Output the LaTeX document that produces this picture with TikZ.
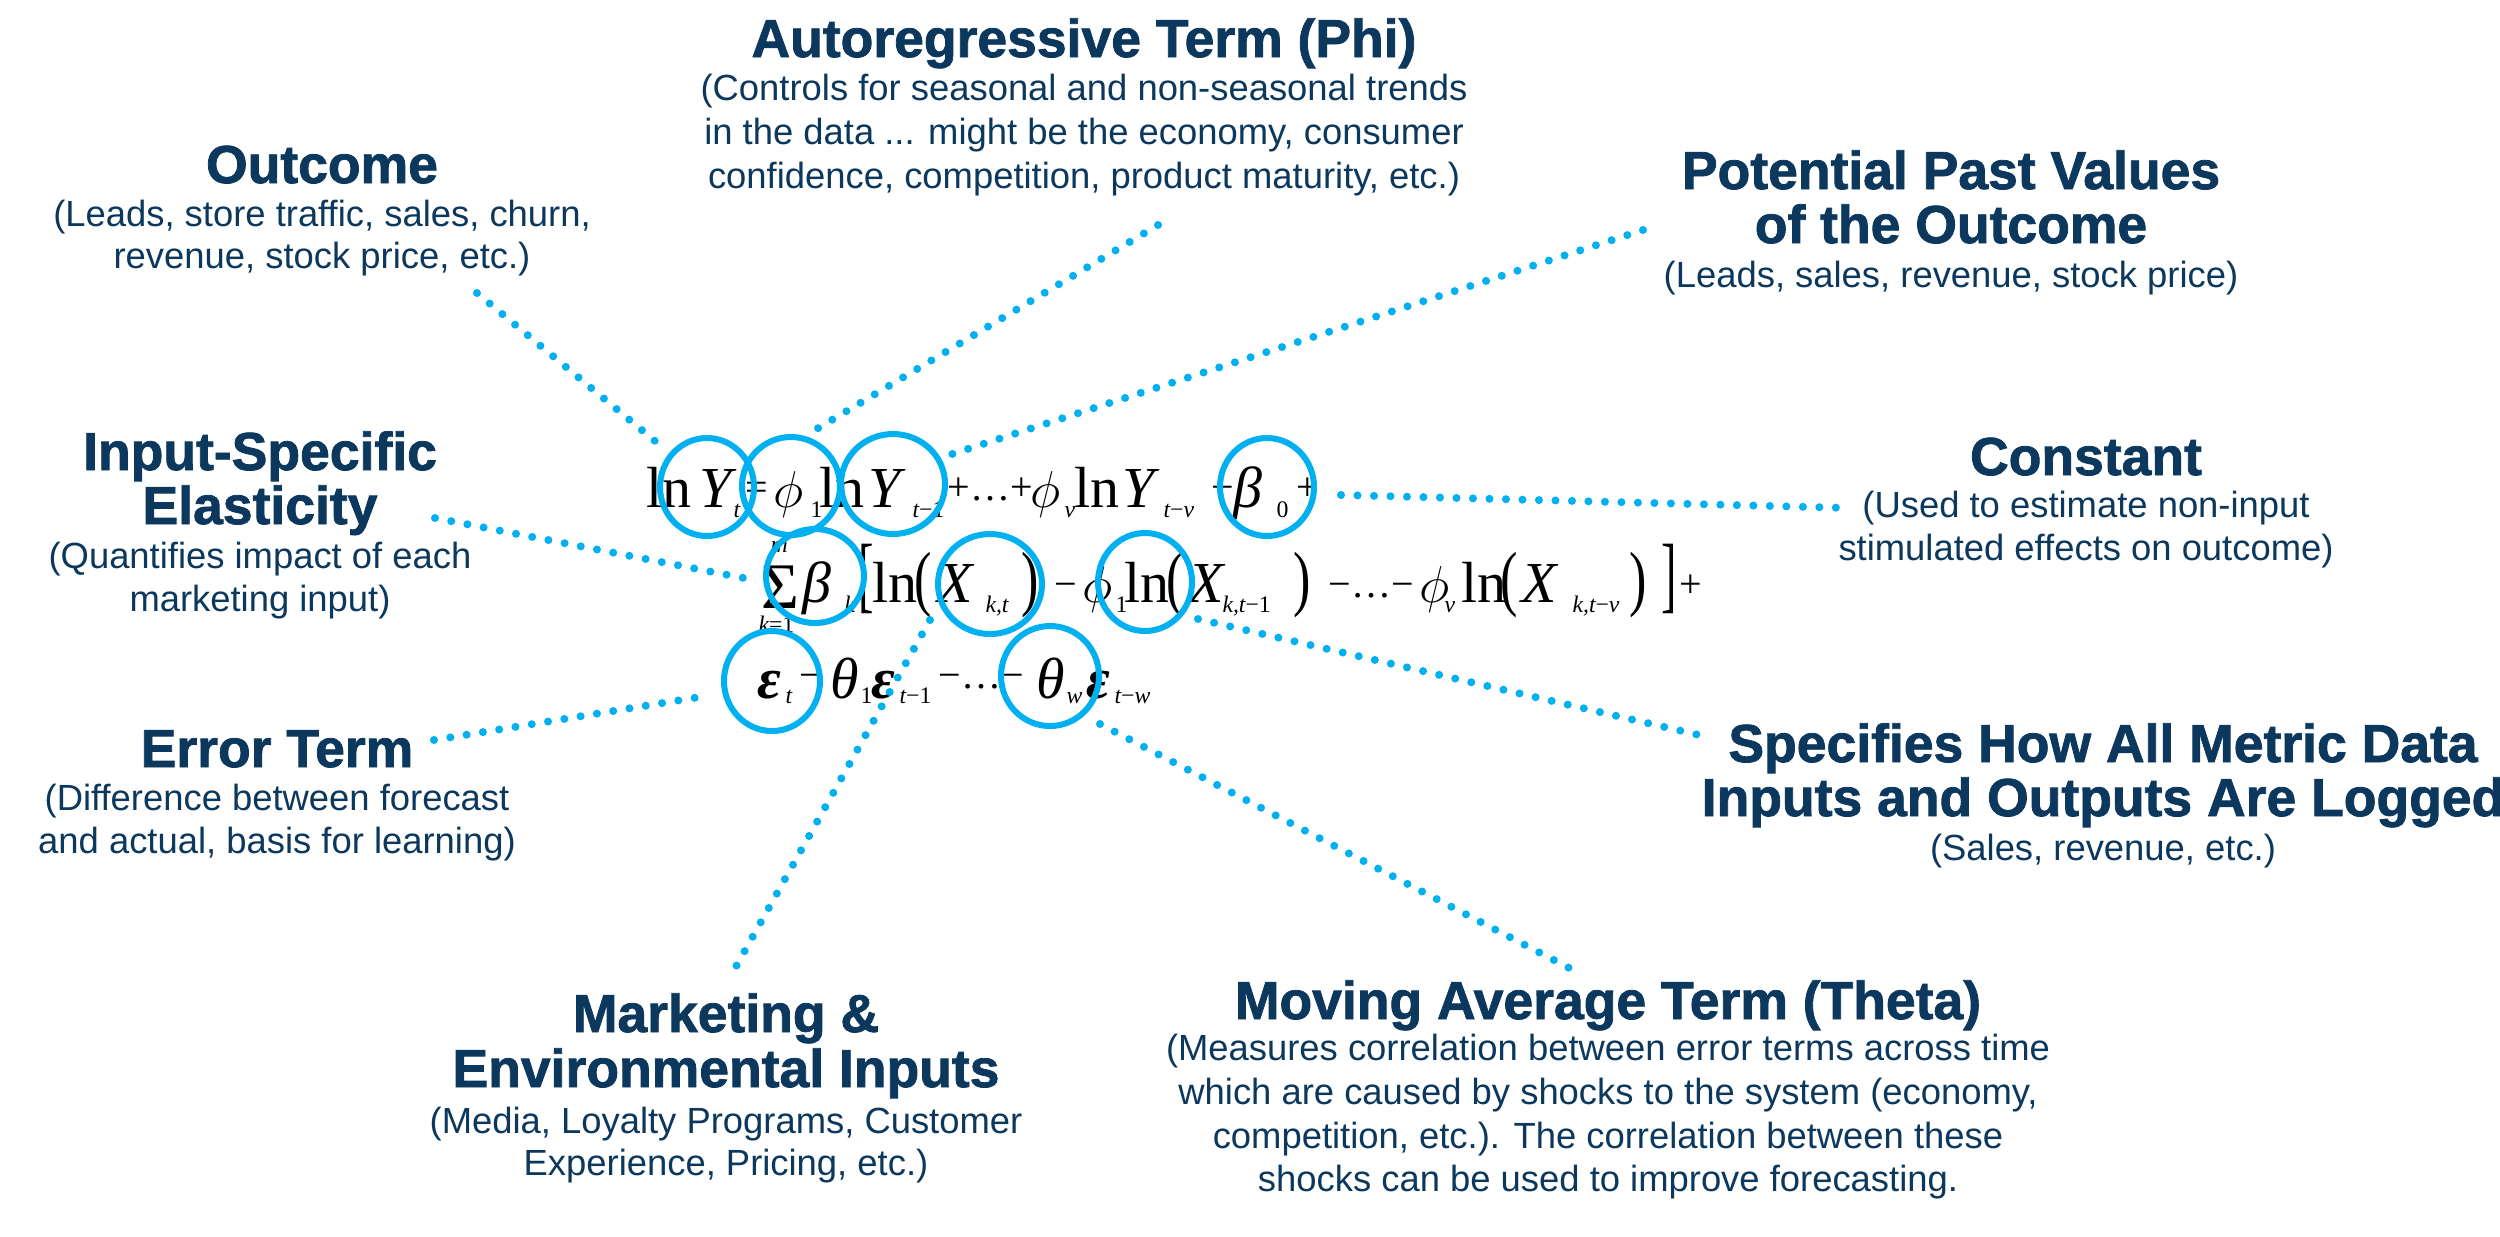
\documentclass[tikz,border=0pt]{standalone}
\usepackage{fontspec}
\usepackage{graphicx}
\setmainfont{Liberation Sans}
\newfontfamily\ttlfont[BoldFeatures={FakeBold=1.5}]{Liberation Sans}
\newfontfamily\eqrm{Liberation Serif}
\usetikzlibrary{shapes.geometric}
\definecolor{navy}{RGB}{12,56,94}
\definecolor{sky}{RGB}{0,176,240}
\begin{document}
\begin{tikzpicture}[x=0.4pt,y=-0.4pt,
 ttl/.style={font=\ttlfont\fontsize{21.4}{24}\selectfont\bfseries, text=navy, inner sep=0pt, anchor=base},
 bdy/.style={font=\fontsize{14.56}{17}\selectfont, text=navy, inner sep=0pt, anchor=base},
 eqm/.style={font=\eqrm\fontsize{23.2}{24}\selectfont, inner sep=0pt, anchor=base west},
 eqi/.style={font=\eqrm\itshape\fontsize{23.2}{24}\selectfont, inner sep=0pt, anchor=base west},
 eqb/.style={font=\eqrm\bfseries\itshape\fontsize{23.2}{24}\selectfont, inner sep=0pt, anchor=base west},
 eqphi/.style={font=\fontsize{22}{24}\selectfont, inner sep=0pt, anchor=base west},
 eqs/.style={font=\eqrm\itshape\fontsize{9.5}{10}\selectfont, inner sep=0pt, anchor=base west},
 eqo/.style={font=\eqrm\fontsize{16}{17}\selectfont, inner sep=0pt, anchor=base west},
 eqS/.style={font=\eqrm\fontsize{26}{28}\selectfont, inner sep=0pt, anchor=base west},
 ring/.style={ellipse, draw=sky, line width=2.4pt, inner sep=0pt},
 dotline/.style={draw=sky, line width=3.2pt, line cap=round, dash pattern=on 0pt off 6.6pt},
]
\fill[white] (0,0) rectangle (2500,1236);
\useasboundingbox (0,0) rectangle (2500,1236);

% ---------- labels ----------
\node[ttl] (arT) at (1084,57) {Autoregressive Term (Phi)};
\node[bdy] (arB1) at (1084,100) {(Controls for seasonal and non-seasonal trends};
\node[bdy] (arB2) at (1084,144) {in the data ... might be the economy, consumer};
\node[bdy] (arB3) at (1084,188) {confidence, competition, product maturity, etc.)};

\node[ttl] (ouT) at (322,183) {Outcome};
\node[bdy] (ouB1) at (322,226) {(Leads, store traffic, sales, churn,};
\node[bdy] (ouB2) at (322,268) {revenue, stock price, etc.)};

\node[ttl] (ppT1) at (1951,189) {Potential Past Values};
\node[ttl] (ppT2) at (1951,243) {of the Outcome};
\node[bdy] (ppB1) at (1951,287) {(Leads, sales, revenue, stock price)};

\node[ttl] (isT1) at (260,470) {Input-Specific};
\node[ttl] (isT2) at (260,524) {Elasticity};
\node[bdy] (isB1) at (260,568) {(Quantifies impact of each};
\node[bdy] (isB2) at (260,611) {marketing input)};

\node[ttl] (coT) at (2086,475) {Constant};
\node[bdy] (coB1) at (2086,517) {(Used to estimate non-input};
\node[bdy] (coB2) at (2086,560) {stimulated effects on outcome)};

\node[ttl] (erT) at (277,767) {Error Term};
\node[bdy] (erB1) at (277,810) {(Difference between forecast};
\node[bdy] (erB2) at (277,853) {and actual, basis for learning)};

\node[ttl] (spT1) at (2103,762) {Specifies How All Metric Data};
\node[ttl] (spT2) at (2103,816) {Inputs and Outputs Are Logged};
\node[bdy] (spB1) at (2103,860) {(Sales, revenue, etc.)};

\node[ttl] (mkT1) at (726,1032) {Marketing \&};
\node[ttl] (mkT2) at (726,1087) {Environmental Inputs};
\node[bdy] (mkB1) at (726,1133) {(Media, Loyalty Programs, Customer};
\node[bdy] (mkB2) at (726,1175) {Experience, Pricing, etc.)};

\node[ttl] (maT) at (1608,1019) {Moving Average Term (Theta)};
\node[bdy] (maB1) at (1608,1060) {(Measures correlation between error terms across time};
\node[bdy] (maB2) at (1608,1104) {which are caused by shocks to the system (economy,};
\node[bdy] (maB3) at (1608,1148) {competition, etc.). The correlation between these};
\node[bdy] (maB4) at (1608,1191) {shocks can be used to improve forecasting.};

% ---------- equation row 1 ----------
\node[eqm] (r1a) at (646,507) {ln};
\node[eqi] (r1b) at (699,507) {Y};
\node[eqs] (r1c) at (733,517) {t};
\node[eqo] (r1d) at (745,500) {=};
\node[eqphi] (r1e) at (773,507) {$\phi$};
\node[eqs] (r1f) at (810,517) {\upshape 1};
\node[eqm] (r1g) at (819,507) {ln};
\node[eqi] (r1h) at (868,507) {Y};
\node[eqs] (r1i) at (912,517) {t\upshape −1};
\node[eqo] (r1j) at (947,500) {+…+};
\node[eqphi] (r1k) at (1030,507) {$\phi$};
\node[eqs] (r1l) at (1064,517) {v};
\node[eqm] (r1m) at (1074,507) {ln};
\node[eqi] (r1n) at (1122,507) {Y};
\node[eqs] (r1o) at (1163,517) {t\upshape −\itshape v};
\node[eqo] (r1p) at (1211,500) {−};
\node[eqi] (r1q) at (1233,507) {β};
\node[eqs] (r1r) at (1276,517) {\upshape 0};
\node[eqo] (r1s) at (1296,500) {+};

% ---------- equation row 2 ----------
\node[eqs] (r2m) at (770,552) {m};
\node[eqS] (r2S) at (761,608) {Σ};
\node[eqs] (r2k) at (758,632) {k\upshape =1};
\node[eqi] (r2b) at (802,602) {β};
\node[eqs] (r2bk) at (844,612) {k};
\node[eqm] (r2L) at (858,602) {\scalebox{0.8}[1.45]{[}};
\node[eqm] (r2a) at (872,602) {ln};
\node[eqm] (r2p1) at (914,602) {\scalebox{0.9}[1.25]{(}};
\node[eqi] (r2X1) at (937,602) {X};
\node[eqs] (r2s1) at (985,612) {k,t};
\node[eqm] (r2q1) at (1021,602) {\scalebox{0.9}[1.25]{)}};
\node[eqo] (r2m1) at (1054,597) {−};
\node[eqphi] (r2f1) at (1082,602) {$\phi$};
\node[eqs] (r2s2) at (1115,612) {\upshape 1};
\node[eqm] (r2l2) at (1124,602) {ln};
\node[eqm] (r2p2) at (1166,602) {\scalebox{0.9}[1.25]{(}};
\node[eqi] (r2X2) at (1188,602) {X};
\node[eqs] (r2s3) at (1222,612) {k,t\upshape −1};
\node[eqm] (r2q2) at (1293,602) {\scalebox{0.9}[1.25]{)}};
\node[eqo] (r2m2) at (1328,597) {−…−};
\node[eqphi] (r2f2) at (1419,602) {$\phi$};
\node[eqs] (r2s4) at (1444,612) {v};
\node[eqm] (r2l3) at (1461,602) {ln};
\node[eqm] (r2p3) at (1500,602) {\scalebox{0.9}[1.25]{(}};
\node[eqi] (r2X3) at (1521,602) {X};
\node[eqs] (r2s5) at (1572,612) {k,t\upshape −\itshape v};
\node[eqm] (r2q3) at (1629,602) {\scalebox{0.9}[1.25]{)}};
\node[eqm] (r2R) at (1661,602) {\scalebox{0.8}[1.45]{]}};
\node[eqo] (r2plus) at (1679,597) {+};

% ---------- equation row 3 ----------
\node[eqb] (r3e1) at (757,698) {ε};
\node[eqs] (r3s1) at (785,703) {t};
\node[eqo] (r3m1) at (799,688) {−};
\node[eqi] (r3t1) at (830,698) {θ};
\node[eqs] (r3s2) at (860,703) {\upshape 1};
\node[eqb] (r3e2) at (871,698) {ε};
\node[eqs] (r3s3) at (899,703) {t\upshape −1};
\node[eqo] (r3m2) at (938,688) {−…−};
\node[eqi] (r3t2) at (1036,698) {θ};
\node[eqs] (r3s4) at (1066,703) {w};
\node[eqb] (r3e3) at (1086,698) {ε};
\node[eqs] (r3s5) at (1114,703) {t\upshape −\itshape w};

% ---------- rings ----------
\node[ring, minimum width=37.6pt, minimum height=39.2pt] (c1) at (707,487) {};
\node[ring, minimum width=39.2pt, minimum height=39.2pt] (c2) at (791,486) {};
\node[ring, minimum width=41.6pt, minimum height=40pt] (c3) at (893,484) {};
\node[ring, minimum width=37.6pt, minimum height=39.2pt] (c4) at (1267,487) {};
\node[ring, minimum width=39.2pt, minimum height=37.6pt] (c5) at (815,576) {};
\node[ring, minimum width=41.6pt, minimum height=40pt] (c6) at (990,584) {};
\node[ring, minimum width=37.6pt, minimum height=39.2pt] (c7) at (1145,582) {};
\node[ring, minimum width=38.4pt, minimum height=40pt] (c8) at (772,681) {};
\node[ring, minimum width=39.2pt, minimum height=40pt] (c9) at (1050,676) {};

% ---------- connector ends ----------
\coordinate (o1) at (477,293); \coordinate (o2) at (661,446);
\coordinate (a1) at (1158,225); \coordinate (a2) at (810,433);
\coordinate (p1) at (1643,230); \coordinate (p2) at (946,456);
\coordinate (k1) at (1341,495); \coordinate (k2) at (1850,508);
\coordinate (i1) at (435,518); \coordinate (i2) at (754,580);
\coordinate (e1) at (434,740); \coordinate (e2) at (706,696);
\coordinate (s1) at (1198,619); \coordinate (s2) at (1712,738);
\coordinate (m1) at (930,620); \coordinate (m2) at (729,979);
\coordinate (v1) at (1100,724); \coordinate (v2) at (1575,971);

\draw[dotline] (o1) -- (o2);
\draw[dotline] (a1) -- (a2);
\draw[dotline] (p1) -- (p2);
\draw[dotline] (k1) -- (k2);
\draw[dotline] (i1) -- (i2);
\draw[dotline] (e1) -- (e2);
\draw[dotline] (s1) -- (s2);
\draw[dotline] (m1) -- (m2);
\draw[dotline] (v1) -- (v2);
\end{tikzpicture}
\end{document}
